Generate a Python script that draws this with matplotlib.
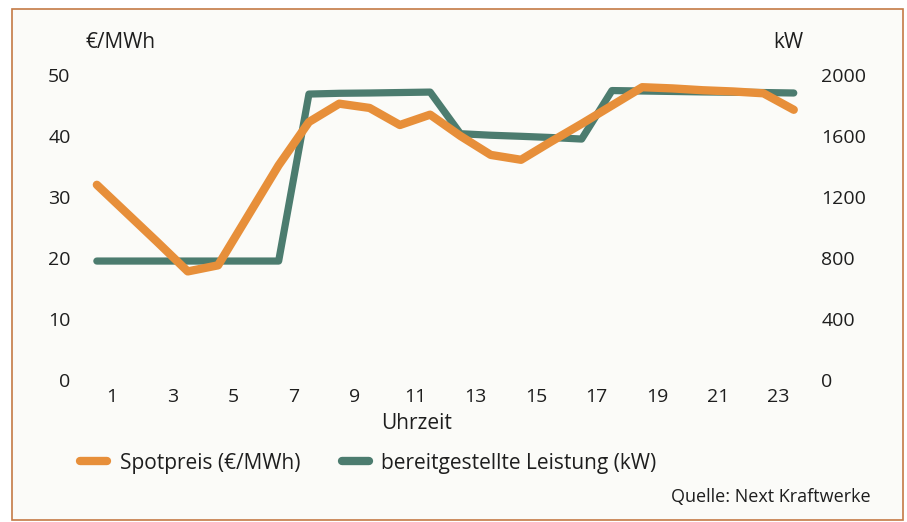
import numpy as np
import matplotlib
matplotlib.use("Agg")
import matplotlib.pyplot as plt
from matplotlib.lines import Line2D
from matplotlib.patches import Rectangle

plt.rcParams['font.family'] = ['Open Sans', 'DejaVu Sans']

# hourly values, plotted at the middle of each hour
hours = np.arange(0.5, 24, 1.0)
spotpreis = [32.0, 27.3, 22.6, 17.8, 18.8, 27.0, 35.2, 42.3, 45.3, 44.6, 41.8, 43.5,
             40.0, 36.9, 36.1, 39.1, 42.0, 45.0, 48.0, 47.8, 47.5, 47.3, 47.0, 44.3]
leistung = [780, 780, 780, 780, 780, 780, 780, 1875, 1880, 1882, 1885, 1888,
            1615, 1605, 1598, 1590, 1580, 1898, 1895, 1892, 1889, 1887, 1885, 1882]

x_ticks = [1, 3, 5, 7, 9, 11, 13, 15, 17, 19, 21, 23]
left_ticks = [0, 10, 20, 30, 40, 50]
right_ticks = [0, 400, 800, 1200, 1600, 2000]

orange = '#e78f3a'
green = '#4c7c6f'
txt = '#1e1e1e'
fs_tick = 14
fs = 15

fig = plt.figure(figsize=(9.07, 5.22), dpi=100)
fig.patch.set_facecolor('white')

# scanned box with thin border
fig.patches.append(Rectangle((12 / 907, 2 / 522), 891 / 907, 511 / 522,
                             transform=fig.transFigure, facecolor='#fbfbf8',
                             edgecolor='#c47a46', lw=1.2, zorder=-5))

ax = fig.add_axes([81.7 / 907, 142 / 522, 727.2 / 907, 305 / 522])
ax2 = ax.twinx()
ax.set_zorder(ax2.get_zorder() + 1)
ax.patch.set_visible(False)
ax2.patch.set_visible(False)

ax2.plot(hours, leistung, color=green, lw=5.2, solid_capstyle='round')
ax.plot(hours, spotpreis, color=orange, lw=6, solid_capstyle='round')

ax.set_xlim(0, 24)
ax.set_ylim(0, 50)
ax2.set_ylim(0, 2000)
ax.set_xticks(x_ticks)
ax.set_xticklabels([str(t) for t in x_ticks])
ax.set_yticks(left_ticks)
ax.set_yticklabels([str(t) for t in left_ticks])
ax2.set_yticks(right_ticks)
ax2.set_yticklabels([str(t) for t in right_ticks])

for a in (ax, ax2):
    for s in a.spines.values():
        s.set_visible(False)
ax.tick_params(axis='x', length=0, pad=6, labelsize=fs_tick, labelcolor=txt)
ax.tick_params(axis='y', length=0, pad=8, labelsize=fs_tick, labelcolor=txt)
ax2.tick_params(axis='y', length=0, pad=9, labelsize=fs_tick, labelcolor=txt)

ax.set_xlabel('Uhrzeit', fontsize=fs, color=txt)
ax.xaxis.set_label_coords(0.461, -0.141)
ax.xaxis.label.set_verticalalignment('center')

fig.text(86 / 907, 1 - 42 / 522, '€/MWh', fontsize=fs, color=txt, ha='left', va='center')
fig.text(803 / 907, 1 - 42 / 522, 'kW', fontsize=fs, color=txt, ha='right', va='center')

handles = [Line2D([], [], color=orange, lw=6, solid_capstyle='round'),
           Line2D([], [], color=green, lw=6, solid_capstyle='round')]
fig.legend(handles, ['Spotpreis (€/MWh)', 'bereitgestellte Leistung (kW)'],
           loc='center left', bbox_to_anchor=(80 / 907, 1 - 463 / 522), ncol=2,
           frameon=False, fontsize=fs, handlelength=1.3, handletextpad=0.6,
           columnspacing=2.0, labelcolor=txt, borderaxespad=0, borderpad=0)

fig.text(871 / 907, 1 - 497 / 522, 'Quelle: Next Kraftwerke', fontsize=13,
         color=txt, ha='right', va='center')

fig.savefig('out.png', dpi=100, facecolor=fig.get_facecolor())
